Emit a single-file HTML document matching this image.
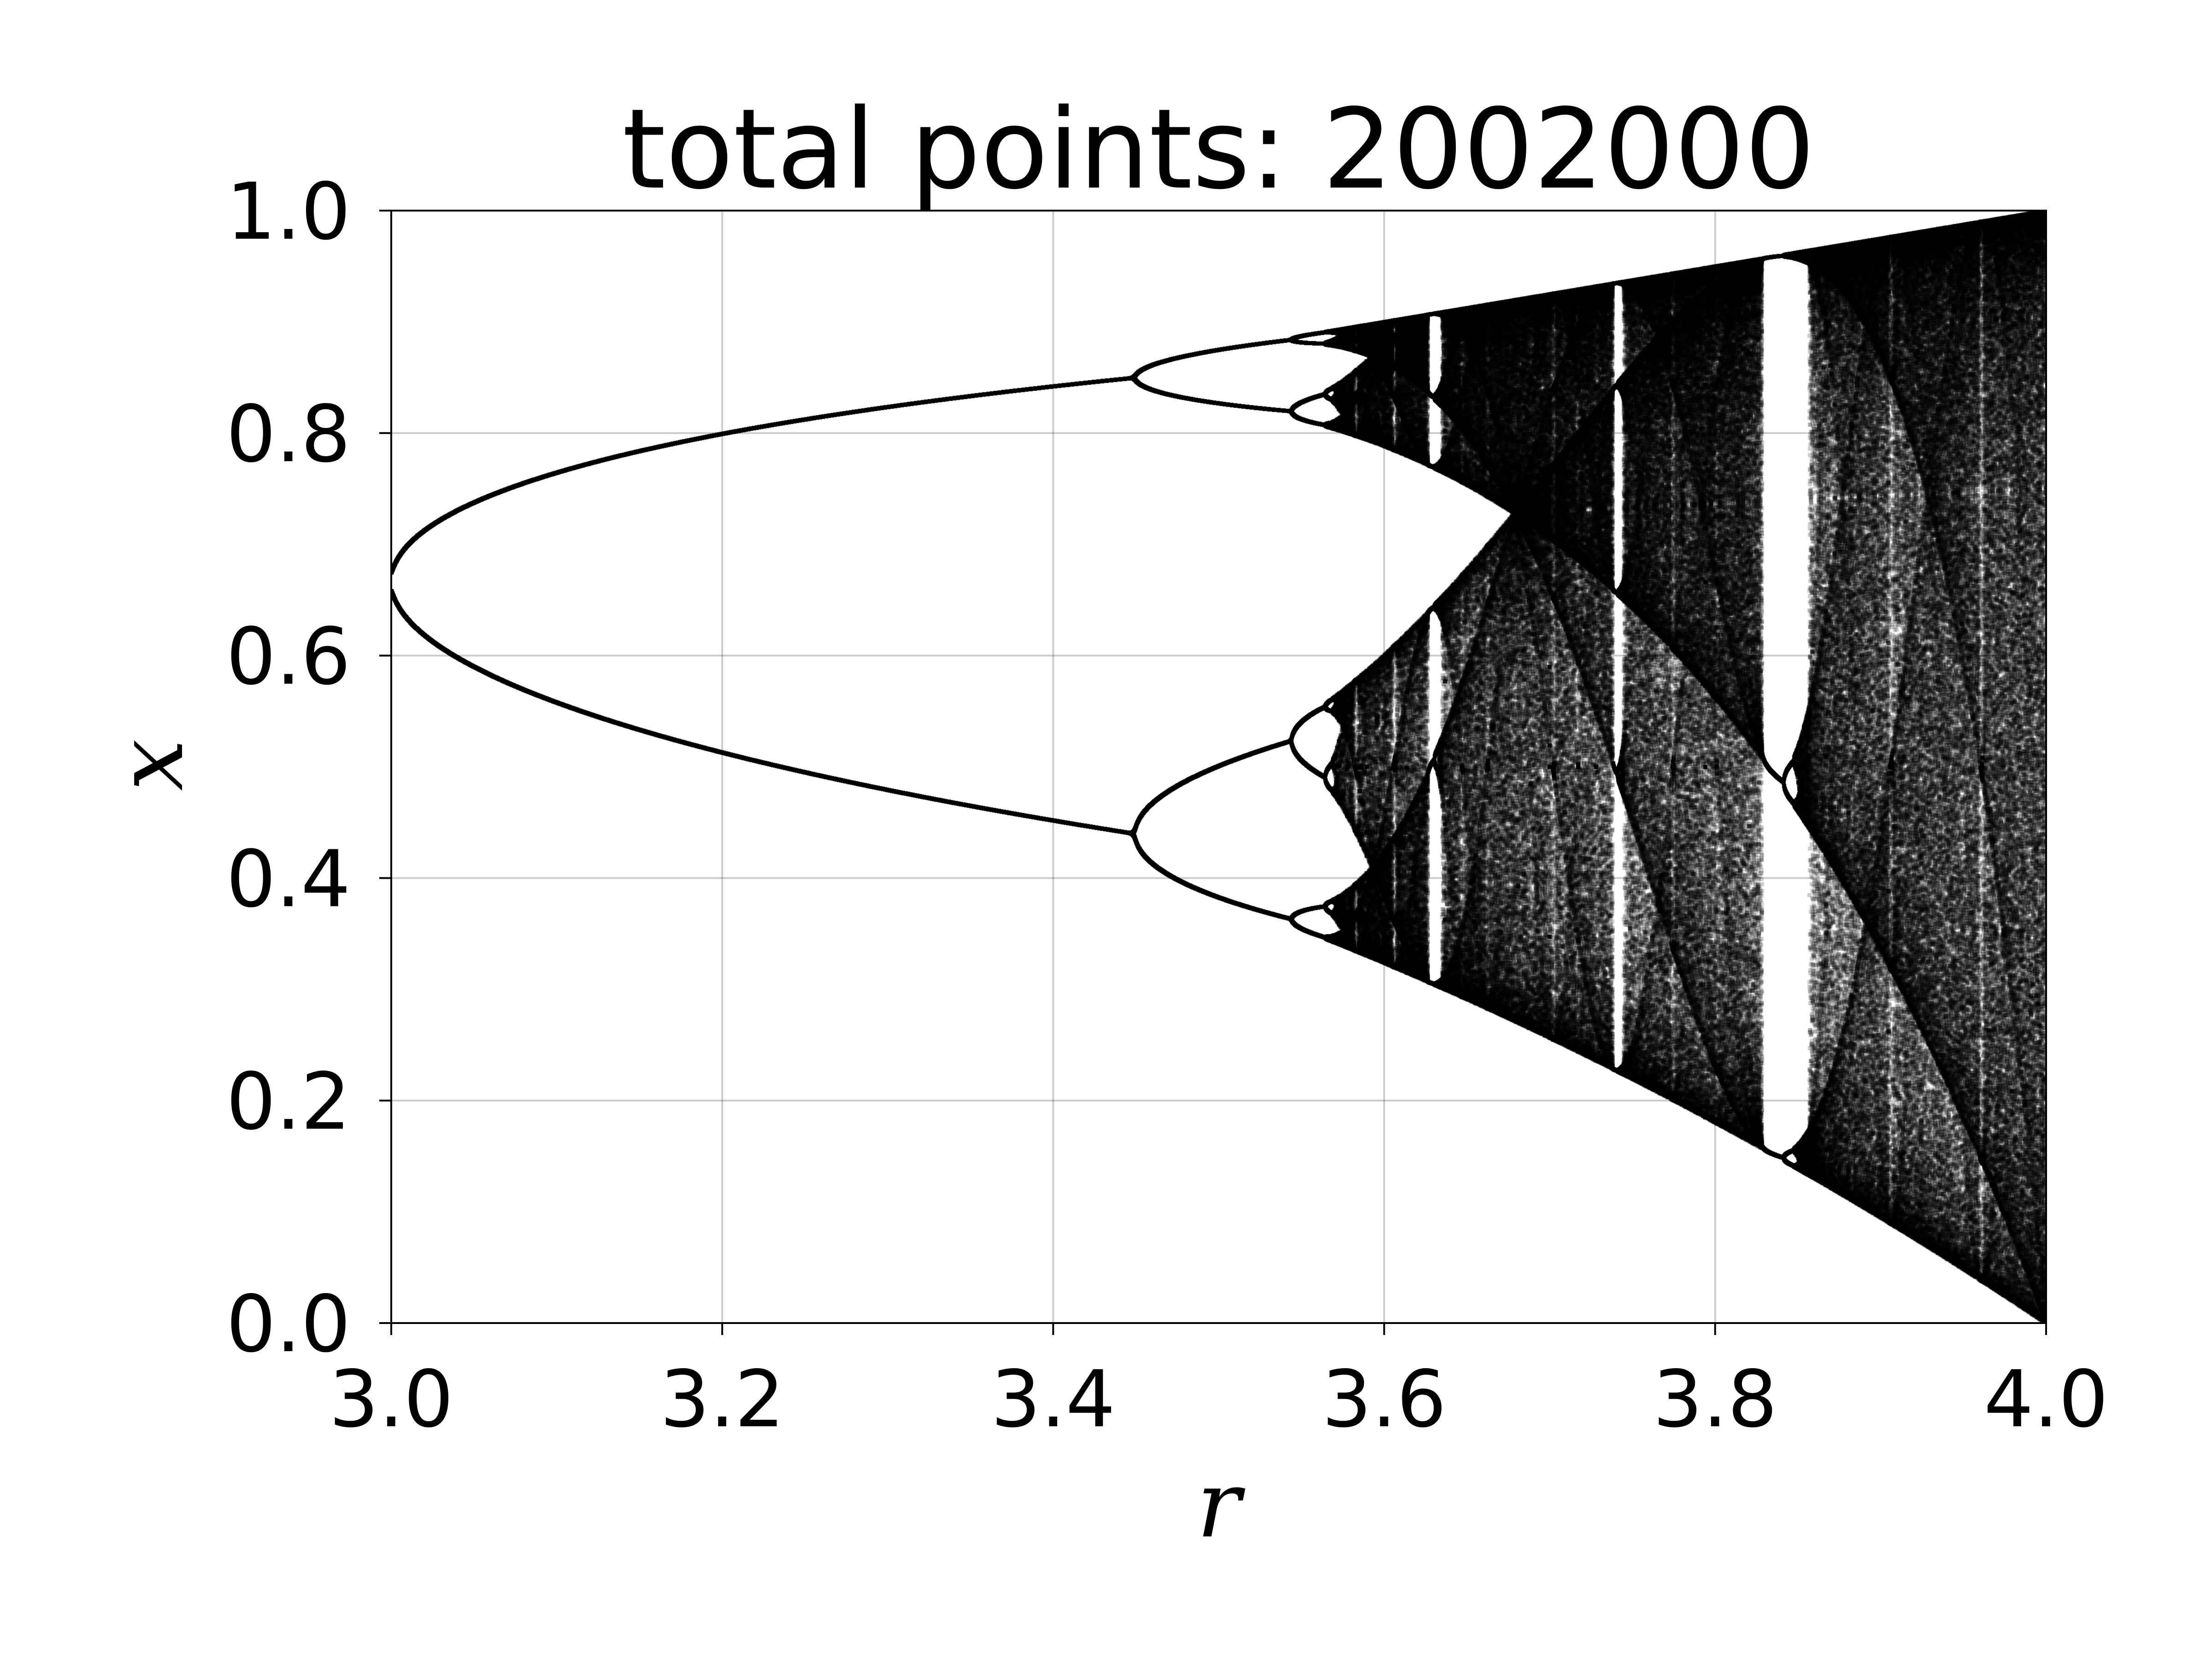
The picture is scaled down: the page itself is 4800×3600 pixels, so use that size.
<!DOCTYPE html>
<html><head><meta charset="utf-8">
<style>
html,body{margin:0;padding:0;background:#fff;}
#wrap{position:relative;width:4800px;height:3600px;overflow:hidden;background:#fff;}
canvas{position:absolute;left:849px;top:457px;}
svg{position:absolute;left:0;top:0;}
</style></head>
<body>
<div id="wrap">
<canvas id="cv" width="3591" height="2414"></canvas>
<svg id="sv" width="4800" height="3600"></svg>
</div>
<script>
const rDomain = [3.0, 4.0];
const xDomain = [0.0, 1.0];
const rTicks = [3.0, 3.2, 3.4, 3.6, 3.8, 4.0];
const rTickLabels = ["3.0","3.2","3.4","3.6","3.8","4.0"];
const xTicks = [0.0, 0.2, 0.4, 0.6, 0.8, 1.0];
const xTickLabels = ["0.0","0.2","0.4","0.6","0.8","1.0"];
const titleText = "total points: 2002000";
const transientIters = [600];
const plottedIters = [300];
const x0 = [0.5];

const L=849, R=4440, T=457, B=2871;
const W=R-L, H=B-T;
function sx(r){return L+(r-rDomain[0])/(rDomain[1]-rDomain[0])*W;}
function sy(x){return B-(x-xDomain[0])/(xDomain[1]-xDomain[0])*H;}

const cv=document.getElementById('cv');
const ctx=cv.getContext('2d');
const cnt=new Float32Array(W*H);
const S=4;
for(let i=0;i<W;i++){
  const r=rDomain[0]+(i+0.5)/W*(rDomain[1]-rDomain[0]);
  let x=x0[0];
  for(let k=0;k<transientIters[0];k++) x=r*x*(1-x);
  for(let k=0;k<plottedIters[0];k++){
    x=r*x*(1-x);
    const py=Math.round(sy(x)-T);
    for(let dy=-S;dy<=S;dy++){
      const yy=py+dy; if(yy<0||yy>=H) continue;
      for(let dx=-S;dx<=S;dx++){
        const xx=i+dx; if(xx<0||xx>=W) continue;
        cnt[yy*W+xx]+=1;
      }
    }
  }
}
const img=ctx.createImageData(W,H);
for(let p=0;p<W*H;p++){
  const a=1-Math.exp(-0.22*cnt[p]);
  const v=Math.round(255*(1-a));
  img.data[p*4]=v;img.data[p*4+1]=v;img.data[p*4+2]=v;img.data[p*4+3]=255;
}
ctx.putImageData(img,0,0);

const NS='http://www.w3.org/2000/svg';
const sv=document.getElementById('sv');
function mk(tag,attrs,parent){const e=document.createElementNS(NS,tag);for(const k in attrs)e.setAttribute(k,attrs[k]);(parent||sv).appendChild(e);return e;}
const font='DejaVu Sans, "Liberation Sans", sans-serif';
rTicks.forEach((t,i)=>{
  const g=mk('line',{x1:sx(t),x2:sx(t),y1:T,y2:B,stroke:'#cccccc','stroke-width':4});
  
  
  g.style.mixBlendMode='multiply';
  const tk=mk('line',{x1:sx(t),x2:sx(t),y1:B,y2:B+26,stroke:'#000','stroke-width':4});
  
  
  const lb=mk('text',{x:sx(t),y:3095,'text-anchor':'middle','font-size':170,'font-family':font,fill:'#000'});
  lb.textContent=rTickLabels[i];
  
  
});
xTicks.forEach((t,i)=>{
  const g=mk('line',{x1:L,x2:R,y1:sy(t),y2:sy(t),stroke:'#cccccc','stroke-width':4});
  
  
  g.style.mixBlendMode='multiply';
  const tk=mk('line',{x1:L-26,x2:L,y1:sy(t),y2:sy(t),stroke:'#000','stroke-width':4});
  
  
  const lb=mk('text',{x:L-88,y:sy(t)+61,'text-anchor':'end','font-size':170,'font-family':font,fill:'#000'});
  lb.textContent=xTickLabels[i];
  
  
});
const fr=mk('rect',{x:L,y:T,width:W,height:H,fill:'none',stroke:'#000','stroke-width':4});


const ti=mk('text',{x:(L+R)/2,y:407,'text-anchor':'middle','font-size':240,'font-family':font,fill:'#000'});
ti.textContent=titleText;


const xl=mk('text',{x:(L+R)/2,y:3334,'text-anchor':'middle','font-size':200,'font-style':'italic','font-family':'"DejaVu Serif","Liberation Serif",serif',fill:'#000'});
xl.textContent='r';


const yl=mk('text',{x:0,y:0,'text-anchor':'middle','font-size':200,'font-style':'italic','font-family':'"DejaVu Serif","Liberation Serif",serif',fill:'#000',transform:'translate(395,1660) rotate(-90)'});
yl.textContent='x';


</script>
</body></html>
